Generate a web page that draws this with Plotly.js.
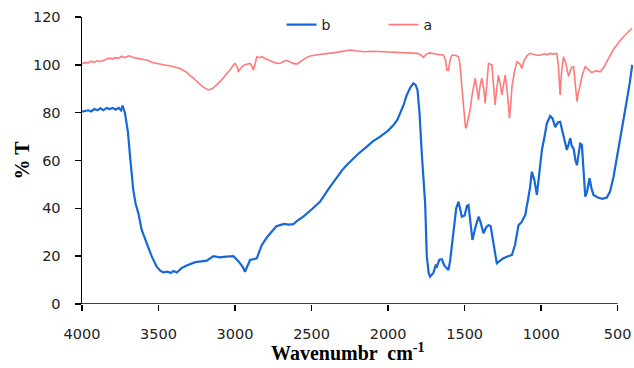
<!DOCTYPE html>
<html>
<head>
<meta charset="utf-8">
<script src="https://cdn.plot.ly/plotly-3.0.1.min.js"></script>
<style>html,body{margin:0;padding:0;background:#fff}#chart{width:634px;height:368px}</style>
</head>
<body>
<div id="chart"></div>
<script>
// Series b (blue)
const waveB = [4000,3960,3940,3920,3900,3880,3860,3840,3820,3800,3780,3760,3745,3735,3720,3700,3686,3665,3650,3632,3610,3590,3577,3545,3512,3490,3470,3440,3420,3403,3380,3350,3320,3294,3260,3220,3185,3142,3100,3060,3011,2980,2950,2935,2920,2902,2858,2840,2825,2790,2760,2730,2706,2680,2650,2619,2590,2554,2500,2444,2390,2335,2300,2270,2200,2139,2100,2052,2000,1965,1940,1922,1900,1878,1855,1835,1820,1808,1795,1780,1770,1758,1747,1735,1726,1715,1704,1690,1682,1665,1649,1632,1616,1606,1595,1573,1555,1540,1530,1518,1500,1485,1475,1465,1449,1430,1409,1395,1377,1360,1344,1330,1322,1305,1290,1270,1250,1224,1191,1170,1148,1130,1104,1085,1072,1061,1045,1028,1010,995,975,963,941,925,908,890,876,860,845,832,820,810,800,788,776,766,755,745,734,720,712,700,684,670,658,630,600,571,550,527,505,484,460,440,420,405];
const valB = [80.4,81,80.5,81.5,81,81.8,81,82,81.5,82,81.2,82,81,83,80,72,61.6,47.7,42,38,31,27.5,25.5,20,15.6,14,13.2,13.5,13,13.8,13.2,15,16,16.7,17.5,17.8,18.1,20,19.5,19.8,20,18,15.5,13.5,16,18.4,19.1,22,24.7,28,30.5,32.5,33,33.5,33.2,33.4,35,36.5,39.5,42.8,48,53.2,56,58.1,62.5,65.8,68,70,72.5,74.8,77,79.7,83,87.4,90.5,92.3,91.5,89.5,80,63,52,42,19.8,13,11.4,12,13,16,15.6,18.5,18.7,16,15,14.2,18,29.7,40,42.8,40,36.5,37,41,41.4,35,26.8,32,36.5,34,29.6,32,33,32.5,29.7,22,17,18,19,19.8,20.5,25,33,34,37.2,44,49,55.3,52,45.6,56,64.4,71,75.5,78.6,77.5,73.9,76,76.2,72,68,64.4,67,69.3,66,65,60,58,63,67,66.5,55,44.9,47,52.6,48,45.6,44.5,44,44.5,47,53.2,61,68.6,77,85.3,93,100];

// Series a (pink)
const waveA = [4000,3980,3960,3940,3920,3900,3882,3860,3840,3820,3800,3780,3760,3740,3720,3708,3690,3670,3650,3620,3600,3577,3540,3500,3469,3420,3360,3320,3290,3273,3240,3210,3175,3150,3120,3090,3054,3030,3010,3000,2985,2978,2965,2950,2935,2915,2902,2890,2880,2870,2858,2840,2825,2800,2780,2760,2740,2727,2700,2680,2660,2640,2620,2597,2570,2540,2510,2470,2420,2357,2300,2248,2200,2150,2100,2031,1980,1920,1870,1812,1790,1769,1750,1726,1700,1670,1638,1625,1616,1606,1595,1584,1560,1540,1530,1518,1505,1495,1490,1480,1464,1450,1440,1431,1420,1410,1400,1388,1375,1366,1355,1344,1322,1310,1301,1290,1279,1268,1257,1245,1235,1220,1207,1198,1191,1175,1159,1140,1126,1110,1090,1072,1050,1030,1006,980,960,941,920,898,888,882,876,868,860,854,840,830,821,810,800,788,780,772,766,758,745,730,712,690,670,658,640,614,590,571,550,527,505,480,451,430,407];
const valA = [100.3,101,100.8,101.5,101,101.8,101.3,102,102.3,102.8,102.5,103,102.8,103.6,103,103.4,103.8,103.2,102.8,102.5,102.2,102,101,100.3,100,99.5,98.5,97,95.5,94.4,92.5,90.8,89.5,90,91.6,93.5,96.4,98,100,100.6,99,97,98.5,99.5,100,100.3,100.6,99.5,97.8,100,103.4,103,103.4,102.5,102,101.5,101,100.6,100.8,101.5,101.8,101.2,100.6,100.3,101.5,102.8,103.7,104.2,104.6,105,105.5,106.2,105.8,105.5,105.7,105.5,105.3,105.4,105,104.8,104.3,103.1,104.5,105,104.6,104.2,104,102,97.8,97.8,102,104,104,103.4,100,90.8,80,74,73.4,76,81.1,88,92,94.4,90,85.3,91,94.4,90,83.9,92,100.6,100,92,83.2,90,95.7,92,87.4,92,95.7,88,77.6,84,90.8,97,101.3,100.5,98.5,102,104,104.8,104.5,104,104,104.6,104.2,104.8,104.5,104.8,100,92,87.4,96,101,103.4,101,97,95.1,97.5,99,99.2,94,87,84.6,88,92.3,96,99.2,98,96.8,97.1,97.5,97.1,99,101.3,104,106.5,108.3,110.5,112.5,114,115.3];

const xTicks = [4000,3500,3000,2500,2000,1500,1000,500];
const yTicks = [0,20,40,60,80,100,120];

const traces = [
  {x: waveB, y: valB, name: 'b', type: 'scatter', mode: 'lines',
   line: {color: '#1767d8', width: 2.2}},
  {x: waveA, y: valA, name: 'a', type: 'scatter', mode: 'lines',
   line: {color: '#ff7a7a', width: 1.6}}
];

const tickFont = {family: 'DejaVu Sans, Verdana, sans-serif', size: 14.5, color: '#222'};

const layout = {
  width: 634, height: 368,
  margin: {l: 82, r: 1, t: 17, b: 64, pad: 0},
  paper_bgcolor: '#fff', plot_bgcolor: '#fff',
  showlegend: true,
  legend: {orientation: 'h', x: 0.362, xanchor: 'left', y: 0.972, yanchor: 'middle',
           font: {family: 'DejaVu Sans, Verdana, sans-serif', size: 14, color: '#222'},
           entrywidth: 57, entrywidthmode: 'pixels', bgcolor: 'rgba(0,0,0,0)'},
  xaxis: {range: [4000, 400], tickvals: xTicks, ticktext: xTicks.map(String),
          showline: false, showgrid: false, zeroline: false,
          ticks: 'outside', ticklen: 6, tickwidth: 1.5, tickcolor: '#000',
          tickfont: tickFont, ticklabelstandoff: 11},
  yaxis: {range: [0, 120], tickvals: yTicks, ticktext: yTicks.map(String),
          showline: true, linecolor: '#000', linewidth: 1.5, showgrid: false, zeroline: false,
          ticks: 'outside', ticklen: 6, tickwidth: 1.5, tickcolor: '#000',
          tickfont: tickFont, ticklabelstandoff: 11},
  shapes: [{type: 'line', xref: 'x', yref: 'y', x0: 4000, x1: 500, y0: 0, y1: 0,
            line: {color: '#000', width: 1.5}}],
  annotations: [
    {text: 'Wavenumbr  cm<sup>-1</sup>', xref: 'paper', yref: 'paper',
     x: (348 - 82) / 551, y: -(352 - 304) / 287, xanchor: 'center', yanchor: 'middle',
     showarrow: false, font: {family: 'Liberation Serif, Times New Roman, serif', size: 20, color: '#000', weight: 'bold'}},
    {text: '% T', xref: 'paper', yref: 'paper', textangle: -90,
     x: -(82 - 21) / 551, y: 0.5, xanchor: 'center', yanchor: 'middle',
     showarrow: false, font: {family: 'Liberation Serif, Times New Roman, serif', size: 20, color: '#000', weight: 'bold'}}
  ]
};

Plotly.newPlot('chart', traces, layout, {displayModeBar: false, staticPlot: true});
</script>
</body>
</html>
